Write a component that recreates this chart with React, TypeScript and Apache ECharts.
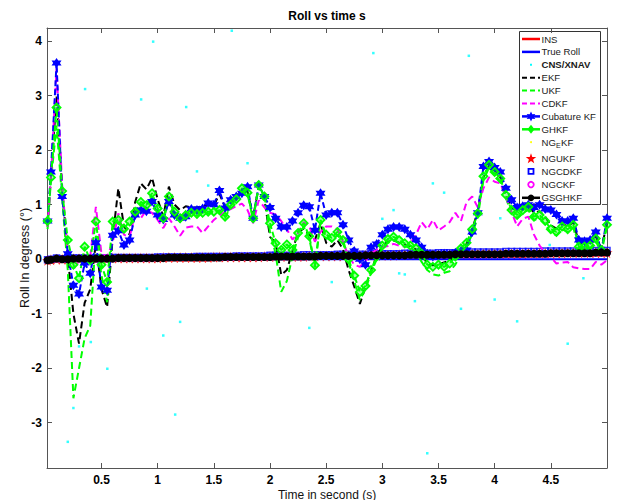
import React, { useEffect, useRef } from 'react';
import * as echarts from 'echarts';

// ---- data ----
const time = [
  0.02, 0.05, 0.1, 0.15, 0.2, 0.25, 0.3, 0.35, 0.4, 0.45,
  0.5, 0.55, 0.6, 0.65, 0.7, 0.75, 0.8, 0.85, 0.9, 0.95,
  1, 1.05, 1.1, 1.15, 1.2, 1.25, 1.3, 1.35, 1.4, 1.45,
  1.5, 1.55, 1.6, 1.65, 1.7, 1.75, 1.8, 1.85, 1.9, 1.95,
  2, 2.05, 2.1, 2.15, 2.2, 2.25, 2.3, 2.35, 2.4, 2.45,
  2.5, 2.55, 2.6, 2.65, 2.7, 2.75, 2.8, 2.85, 2.9, 2.95,
  3, 3.05, 3.1, 3.15, 3.2, 3.25, 3.3, 3.35, 3.4, 3.45,
  3.5, 3.55, 3.6, 3.65, 3.7, 3.75, 3.8, 3.85, 3.9, 3.95,
  4, 4.05, 4.1, 4.15, 4.2, 4.25, 4.3, 4.35, 4.4, 4.45,
  4.5, 4.55, 4.6, 4.65, 4.7, 4.75, 4.8, 4.85, 4.9, 4.95,
  5,
];

const ekf = [
  0.6, 1.5, 3.0, 1.3, 0.05, -1.0, -1.55, -0.8, -0.55, 0.3,
  -0.55, -0.88, 0.4, 1.3, 0.6, 0.45, 1.05, 1.39, 1.28, 1.49,
  1.1, 0.78, 1.33, 1.0, 0.9, 0.97, 0.95, 0.95, 0.97, 1.0,
  0.98, 1.2, 0.95, 1.06, 1.15, 1.27, 1.24, 0.78, 1.33, 1.1,
  0.41, 0.3, -0.29, -0.2, 0.15, 0.5, 0.56, 0.45, 0.35, 0.66,
  0.3, 0.23, 0.35, 0.18, -0.2, -0.5, -0.82, -0.51, -0.2, 0.05,
  0.25, 0.32, 0.35, 0.3, 0.27, 0.24, 0.18, 0.08, -0.08, -0.11,
  -0.09, -0.06, -0.03, 0.05, 0.15, 0.28, 0.55, 0.88, 1.5, 1.72,
  1.62, 1.5, 1.22, 0.95, 0.88, 0.95, 1.0, 0.85, 0.88, 0.78,
  0.62, 0.56, 0.65, 0.6, 0.68, 0.3, 0.28, 0.3, 0.42, 0.2,
  0.66,
];

const ukf = [
  0.55, 1.45, 2.45, 1.1, -0.2, -2.55, -2.0, -1.45, -1.22, 0.43,
  -0.3, -0.79, 0.55, 0.7, 0.49, 0.6, 0.82, 1.0, 0.95, 1.15,
  0.88, 0.7, 1.1, 0.82, 0.72, 0.78, 0.82, 0.8, 0.82, 0.84,
  0.85, 0.87, 0.75, 0.98, 1.08, 1.28, 1.2, 0.72, 1.33, 1.1,
  0.5, 0.1, -0.6, -0.4, 0.05, 0.4, 0.6, 0.38, -0.15, 0.68,
  0.4, 0.33, 0.45, 0.3, -0.05, -0.4, -0.75, -0.55, -0.25, 0.0,
  0.2, 0.3, 0.35, 0.3, 0.24, 0.2, 0.14, -0.05, -0.2, -0.28,
  -0.3, -0.25, -0.22, -0.1, 0.1, 0.25, 0.45, 0.78, 1.45, 1.68,
  1.55, 1.42, 1.12, 0.85, 0.76, 0.85, 0.9, 0.72, 0.75, 0.64,
  0.48, 0.44, 0.55, 0.5, 0.58, 0.18, 0.17, 0.2, 0.33, 0.12,
  0.6,
];

const cdkf = [
  0.6, 1.5, 3.5, 1.35, 0.15, -0.05, -0.1, -0.02, 0.05, 0.96,
  0.1, 0.05, 0.3, 0.84, 0.45, 0.4, 0.84, 0.75, 0.9, 0.85,
  0.72, 0.57, 0.75, 0.6, 0.43, 0.58, 0.6, 0.6, 0.48, 0.6,
  0.72, 0.8, 0.87, 0.92, 0.97, 1.02, 0.9, 0.66, 1.08, 0.95,
  0.85, 0.82, 0.7, 0.55, 0.36, 0.48, 0.68, 0.6, 0.32, 0.5,
  0.6, 0.6, 0.55, 0.32, 0.05, -0.1, -0.14, -0.03, 0.1, 0.18,
  0.22, 0.24, 0.28, 0.25, 0.23, 0.3, 0.45, 0.68, 0.55, 0.72,
  0.53, 0.6, 0.68, 0.85, 0.7, 1.05, 1.15, 0.95, 1.3, 1.5,
  1.42, 1.39, 1.15, 0.87, 0.6, 0.74, 0.78, 0.45, 0.25, 0.12,
  0.04, -0.08, -0.06, -0.05, -0.15, -0.17, -0.18, -0.18, -0.05, -0.1,
  -0.02,
];

const cubatureKf = [
  0.7, 1.6, 3.6, 1.15, 0.1, -0.48, -0.64, -0.07, -0.26, 0.3,
  -0.51, -0.57, 0.44, 0.52, 0.26, 0.35, 0.81, 0.9, 0.88, 1.06,
  0.81, 0.73, 1.06, 0.81, 0.75, 0.78, 0.92, 0.9, 0.93, 1.03,
  1.0, 1.26, 0.94, 1.09, 1.15, 1.21, 1.33, 0.75, 1.36, 1.15,
  0.95, 0.75, 0.59, 0.59, 0.7, 0.85, 0.99, 0.96, 0.53, 1.21,
  0.81, 0.85, 0.85, 0.63, 0.35, 0.15, 0.0, -0.1, 0.22, 0.28,
  0.45, 0.55, 0.59, 0.59, 0.55, 0.45, 0.35, 0.22, 0.1, 0.05,
  0.08, 0.1, 0.08, 0.12, 0.15, 0.17, 0.5, 0.85, 1.7, 1.79,
  1.68, 1.6, 1.3, 1.09, 0.95, 0.97, 1.0, 0.95, 1.0, 0.92,
  0.9, 0.82, 0.7, 0.7, 0.75, 0.35, 0.33, 0.35, 0.5, 0.15,
  0.75,
];

const ghkf = [
  0.7, 1.5, 2.78, 1.25, 0.35, -0.1, -0.35, 0.23, -0.02, 0.69,
  -0.1, -0.42, 0.69, 0.72, 0.56, 0.69, 0.87, 1.05, 0.99, 1.21,
  0.93, 0.75, 1.15, 0.87, 0.75, 0.81, 0.85, 0.83, 0.85, 0.87,
  0.87, 0.9, 0.78, 1.0, 1.1, 1.3, 1.22, 0.75, 1.36, 1.15,
  0.66, 0.29, 0.17, 0.27, 0.17, 0.48, 0.66, 0.42, -0.11, 0.72,
  0.45, 0.39, 0.5, 0.35, 0.0, -0.3, -0.6, -0.49, -0.2, 0.05,
  0.25, 0.37, 0.41, 0.35, 0.29, 0.25, 0.2, 0.1, -0.1, -0.14,
  -0.1, -0.14, -0.08, 0.05, 0.2, 0.3, 0.55, 0.84, 1.52, 1.73,
  1.6, 1.48, 1.18, 0.9, 0.81, 0.9, 0.96, 0.78, 0.81, 0.7,
  0.55, 0.5, 0.6, 0.55, 0.63, 0.23, 0.23, 0.25, 0.38, 0.17,
  0.63,
];

const ngeKf = [
  -0.02, -0.01, 0.0, 0.0, 0.0, 0.01, 0.01, 0.01, 0.01, 0.01,
  0.01, 0.01, 0.01, 0.02, 0.02, 0.02, 0.02, 0.02, 0.02, 0.02,
  0.02, 0.02, 0.03, 0.03, 0.03, 0.03, 0.03, 0.03, 0.03, 0.03,
  0.03, 0.04, 0.04, 0.04, 0.04, 0.04, 0.04, 0.04, 0.04, 0.05,
  0.05, 0.05, 0.05, 0.05, 0.05, 0.05, 0.05, 0.05, 0.06, 0.06,
  0.06, 0.06, 0.06, 0.06, 0.06, 0.07, 0.07, 0.07, 0.07, 0.07,
  0.07, 0.07, 0.07, 0.08, 0.08, 0.08, 0.08, 0.08, 0.08, 0.08,
  0.08, 0.09, 0.09, 0.09, 0.09, 0.09, 0.09, 0.09, 0.09, 0.1,
  0.1, 0.1, 0.1, 0.1, 0.1, 0.1, 0.11, 0.11, 0.11, 0.11,
  0.11, 0.11, 0.11, 0.11, 0.12, 0.12, 0.12, 0.12, 0.12, 0.12,
  0.12,
];

const ngUkf = [
  -0.02, -0.01, 0.0, 0.0, 0.0, 0.01, 0.01, 0.01, 0.01, 0.01,
  0.01, 0.01, 0.02, 0.02, 0.02, 0.02, 0.02, 0.02, 0.02, 0.02,
  0.02, 0.03, 0.03, 0.03, 0.03, 0.03, 0.03, 0.03, 0.03, 0.03,
  0.04, 0.04, 0.04, 0.04, 0.04, 0.04, 0.04, 0.04, 0.04, 0.05,
  0.05, 0.05, 0.05, 0.05, 0.05, 0.05, 0.05, 0.06, 0.06, 0.06,
  0.06, 0.06, 0.06, 0.06, 0.06, 0.07, 0.07, 0.07, 0.07, 0.07,
  0.07, 0.07, 0.07, 0.08, 0.08, 0.08, 0.08, 0.08, 0.08, 0.08,
  0.08, 0.09, 0.09, 0.09, 0.09, 0.09, 0.09, 0.09, 0.1, 0.1,
  0.1, 0.1, 0.1, 0.1, 0.1, 0.1, 0.11, 0.11, 0.11, 0.11,
  0.11, 0.11, 0.11, 0.12, 0.12, 0.12, 0.12, 0.12, 0.12, 0.12,
  0.12,
];

const ngCdkf = [
  -0.01, 0.0, 0.02, 0.01, 0.01, 0.02, 0.02, 0.02, 0.02, 0.02,
  0.02, 0.02, 0.03, 0.03, 0.03, 0.03, 0.03, 0.03, 0.03, 0.03,
  0.04, 0.04, 0.04, 0.04, 0.04, 0.04, 0.04, 0.05, 0.05, 0.05,
  0.05, 0.05, 0.05, 0.05, 0.06, 0.06, 0.06, 0.06, 0.06, 0.06,
  0.07, 0.07, 0.07, 0.07, 0.07, 0.07, 0.08, 0.08, 0.08, 0.08,
  0.08, 0.08, 0.09, 0.09, 0.09, 0.09, 0.09, 0.09, 0.1, 0.1,
  0.1, 0.1, 0.1, 0.1, 0.11, 0.11, 0.11, 0.11, 0.11, 0.11,
  0.12, 0.12, 0.12, 0.12, 0.12, 0.12, 0.13, 0.13, 0.13, 0.13,
  0.13, 0.13, 0.14, 0.14, 0.14, 0.14, 0.14, 0.14, 0.14, 0.15,
  0.15, 0.15, 0.15, 0.15, 0.15, 0.15, 0.15, 0.16, 0.16, 0.16,
  0.16,
];

const ngCkf = [
  -0.02, -0.01, 0.01, 0.0, 0.0, 0.01, 0.01, 0.01, 0.01, 0.01,
  0.01, 0.01, 0.01, 0.02, 0.02, 0.02, 0.02, 0.02, 0.02, 0.02,
  0.02, 0.02, 0.03, 0.03, 0.03, 0.03, 0.03, 0.03, 0.03, 0.03,
  0.03, 0.03, 0.04, 0.04, 0.04, 0.04, 0.04, 0.04, 0.04, 0.04,
  0.04, 0.05, 0.05, 0.05, 0.05, 0.05, 0.05, 0.05, 0.05, 0.06,
  0.06, 0.06, 0.06, 0.06, 0.06, 0.06, 0.06, 0.07, 0.07, 0.07,
  0.07, 0.07, 0.07, 0.07, 0.07, 0.08, 0.08, 0.08, 0.08, 0.08,
  0.08, 0.08, 0.08, 0.09, 0.09, 0.09, 0.09, 0.09, 0.09, 0.09,
  0.09, 0.09, 0.1, 0.1, 0.1, 0.1, 0.1, 0.1, 0.1, 0.1,
  0.11, 0.11, 0.11, 0.11, 0.11, 0.11, 0.11, 0.11, 0.12, 0.12,
  0.12,
];

const gsghkf = [
  -0.02, -0.01, 0.01, 0.0, 0.0, 0.01, 0.01, 0.01, 0.01, 0.01,
  0.01, 0.01, 0.01, 0.02, 0.02, 0.02, 0.02, 0.02, 0.02, 0.02,
  0.02, 0.02, 0.03, 0.03, 0.03, 0.03, 0.03, 0.03, 0.03, 0.03,
  0.03, 0.03, 0.04, 0.04, 0.04, 0.04, 0.04, 0.04, 0.04, 0.04,
  0.04, 0.05, 0.05, 0.05, 0.05, 0.05, 0.05, 0.05, 0.05, 0.06,
  0.06, 0.06, 0.06, 0.06, 0.06, 0.06, 0.06, 0.07, 0.07, 0.07,
  0.07, 0.07, 0.07, 0.07, 0.07, 0.08, 0.08, 0.08, 0.08, 0.08,
  0.08, 0.08, 0.08, 0.09, 0.09, 0.09, 0.09, 0.09, 0.09, 0.09,
  0.09, 0.09, 0.1, 0.1, 0.1, 0.1, 0.1, 0.1, 0.1, 0.1,
  0.11, 0.11, 0.11, 0.11, 0.11, 0.11, 0.11, 0.11, 0.12, 0.12,
  0.12,
];

const insTime = [0.02, 1, 2, 3, 4, 5];
const insRoll = [0, 0.02, 0.04, 0.06, 0.09, 0.11];

const trueTime = [0.02, 5];
const trueRoll = [0, 0];

const cnsTime = [
  0.2, 0.25, 0.3, 0.354, 0.405, 0.552, 0.853, 0.904, 0.96, 1.05,
  1.156, 1.2, 1.254, 1.35, 1.45, 1.66, 1.8, 2.35, 2.55, 2.92,
  3.0, 3.1, 3.15, 3.2, 3.29, 3.4, 3.45, 3.55, 3.7, 3.77,
  4.0, 4.05, 4.2, 4.49, 4.65, 4.79,
];
const cnsRoll = [
  -3.35, -2.73, -1.6, 3.12, -1.52, -2.01, 2.93, -0.54, 3.99, -1.4,
  -2.85, -1.15, 2.79, 1.61, 1.35, 4.19, 1.76, -1.26, -0.42, 3.78,
  0.74, 0.9, -0.26, -0.28, -0.77, -3.56, 1.39, 1.22, -0.91, 3.73,
  -0.74, 0.75, -1.14, 0.26, -1.55, -0.35,
];

const xTicks = [0.5, 1, 1.5, 2, 2.5, 3, 3.5, 4, 4.5];
const yTicks = [-3, -2, -1, 0, 1, 2, 3, 4];

const legendNames = [
  'INS', 'True Roll', 'CNS/XNAV', 'EKF', 'UKF', 'CDKF', 'Cubature KF',
  'GHKF', 'NGEKF', 'NGUKF', 'NGCDKF', 'NGCKF', 'GSGHKF',
];

// ---- styles / helpers ----
const FONT = 'Liberation Sans, Arial, sans-serif';
const RED = '#ff0000';
const BLUE = '#0000ff';
const CYAN = '#00ffff';
const GREEN = '#00ff00';
const MAGENTA = '#ff00ff';
const YELLOW = '#ffff00';
const AXIS = '#555555';

const STAR6 =
  'path://M0,-10L2.887,-5L8.66,-5L5.774,0L8.66,5L2.887,5L0,10L-2.887,5L-8.66,5L-5.774,0L-8.66,-5L-2.887,-5Z';
const STAR5 =
  'path://M0,-10L2.245,-3.09L9.511,-3.09L3.633,1.18L5.878,8.09L0,3.82L-5.878,8.09L-3.633,1.18L-9.511,-3.09L-2.245,-3.09Z';

const zip = (xs: number[], ys: number[]) => xs.map((x, i) => [x, ys[i]]);

function starPoints(cx: number, cy: number, n: number, ro: number, ri: number) {
  const pts: number[][] = [];
  for (let i = 0; i < 2 * n; i++) {
    const a = -Math.PI / 2 + (i * Math.PI) / n;
    const r = i % 2 === 0 ? ro : ri;
    pts.push([cx + r * Math.cos(a), cy + r * Math.sin(a)]);
  }
  return pts;
}

function measure(text: string, font: string) {
  const c = document.createElement('canvas').getContext('2d');
  if (!c) return text.length * 6;
  c.font = font;
  return c.measureText(text).width;
}

function buildLegend() {
  const els: any[] = [];
  const boxX = 519, boxY = 31, boxW = 81, boxH = 173;
  els.push({
    type: 'rect',
    shape: { x: boxX + 0.5, y: boxY + 0.5, width: boxW, height: boxH },
    style: { fill: '#ffffff', stroke: '#333333', lineWidth: 1 },
  });
  const rows = [39, 51.9, 64.8, 77.7, 90.6, 103.5, 116.4, 129.3, 142.2, 158.2, 171.4, 184.6, 197.8];
  const lx0 = 522, lx1 = 540, tx = 541.5, mx = 531;
  const fs = 9.6;
  const line = (y: number, stroke: string, lw: number, dash?: number[]) => ({
    type: 'line',
    shape: { x1: lx0, y1: y, x2: lx1, y2: y },
    style: { stroke, lineWidth: lw, lineDash: dash || null },
  });
  const label = (y: number, text: string, bold = false) => ({
    type: 'text',
    x: tx,
    y,
    style: {
      text, fontSize: fs, fontFamily: FONT, fontWeight: bold ? 'bold' : 'normal',
      fill: '#1a1a1a', textAlign: 'left', textVerticalAlign: 'middle', align: 'left', verticalAlign: 'middle',
    },
  });
  legendNames.forEach((name, i) => {
    const y = rows[i];
    switch (name) {
      case 'INS':
        els.push(line(y, RED, 2.5)); els.push(label(y, name)); break;
      case 'True Roll':
        els.push(line(y, BLUE, 2.5)); els.push(label(y, name)); break;
      case 'CNS/XNAV':
        els.push({ type: 'rect', shape: { x: mx - 1, y: y - 1, width: 2, height: 2 }, style: { fill: CYAN } });
        els.push(label(y, name, true)); break;
      case 'EKF':
        els.push(line(y, '#000000', 2, [5, 3])); els.push(label(y, name)); break;
      case 'UKF':
        els.push(line(y, GREEN, 2, [5, 3])); els.push(label(y, name)); break;
      case 'CDKF':
        els.push(line(y, MAGENTA, 2, [5, 3])); els.push(label(y, name)); break;
      case 'Cubature KF':
        els.push(line(y, BLUE, 2.5));
        els.push({ type: 'polygon', shape: { points: starPoints(mx, y, 6, 5, 2.6) }, style: { fill: BLUE } });
        els.push(label(y, name)); break;
      case 'GHKF':
        els.push(line(y, GREEN, 2.5));
        els.push({ type: 'polygon', shape: { points: [[mx, y - 4.5], [mx + 3.5, y], [mx, y + 4.5], [mx - 3.5, y]] }, style: { fill: GREEN } });
        els.push(label(y, name)); break;
      case 'NGEKF': {
        els.push({ type: 'circle', shape: { cx: mx, cy: y, r: 1 }, style: { fill: YELLOW } });
        const f1 = `normal ${fs}px ${FONT}`;
        const w1 = measure('NG', f1);
        const w2 = measure('E', `normal 7px ${FONT}`);
        els.push(label(y, 'NG'));
        els.push({ type: 'text', x: tx + w1, y: y + 3.5, style: { text: 'E', fontSize: 7, fontFamily: FONT, fill: '#1a1a1a', textVerticalAlign: 'middle', verticalAlign: 'middle' } });
        els.push({ ...label(y, 'KF'), x: tx + w1 + w2 + 0.5 });
        break;
      }
      case 'NGUKF':
        els.push({ type: 'polygon', shape: { points: starPoints(mx, y + 0.5, 5, 5.5, 2.2) }, style: { fill: RED } });
        els.push(label(y, name)); break;
      case 'NGCDKF':
        els.push({ type: 'rect', shape: { x: mx - 2.5, y: y - 2.5, width: 5, height: 5 }, style: { fill: '#ffffff', stroke: BLUE, lineWidth: 1.8 } });
        els.push(label(y, name)); break;
      case 'NGCKF':
        els.push({ type: 'circle', shape: { cx: mx, cy: y, r: 2.8 }, style: { fill: '#ffffff', stroke: MAGENTA, lineWidth: 1.8 } });
        els.push(label(y, name)); break;
      case 'GSGHKF':
        els.push(line(y, '#000000', 2.5));
        els.push({ type: 'circle', shape: { cx: mx, cy: y, r: 3.3 }, style: { fill: '#000000' } });
        els.push(label(y, name)); break;
    }
  });
  return { type: 'group', z: 100, children: els };
}

export default function App() {
  const ref = useRef<HTMLDivElement>(null);
  useEffect(() => {
    if (!ref.current) return;
    const chart = echarts.init(ref.current, null, { renderer: 'svg' });
    const axisCommon = {
      type: 'value',
      axisLine: { show: true, onZero: false, lineStyle: { color: AXIS, width: 1 } },
      splitLine: { show: false },
    };
    const tickLabel = { fontSize: 12, fontWeight: 'bold', color: '#000', fontFamily: FONT };
    const option: any = {
      animation: false,
      backgroundColor: '#ffffff',
      grid: { left: 47, right: 12, top: 28, bottom: 32, containLabel: false },
      xAxis: [
        {
          ...axisCommon, position: 'bottom', min: 0.015, max: 5,
          axisTick: { show: true, inside: true, length: 5, customValues: xTicks, lineStyle: { color: AXIS } },
          axisLabel: { ...tickLabel, margin: 6, customValues: xTicks, formatter: (v: number) => String(v) },
        },
        {
          ...axisCommon, position: 'top', min: 0.015, max: 5,
          axisTick: { show: true, inside: true, length: 5, customValues: xTicks, lineStyle: { color: AXIS } },
          axisLabel: { show: false },
        },
      ],
      yAxis: [
        {
          ...axisCommon, position: 'left', min: -3.83, max: 4.24,
          axisTick: { show: true, inside: true, length: 5, customValues: yTicks, lineStyle: { color: AXIS } },
          axisLabel: { ...tickLabel, margin: 5, customValues: yTicks, formatter: (v: number) => String(v) },
        },
        {
          ...axisCommon, position: 'right', min: -3.83, max: 4.24,
          axisTick: { show: true, inside: true, length: 5, customValues: yTicks, lineStyle: { color: AXIS } },
          axisLabel: { show: false },
        },
      ],
      series: [
        { name: 'INS', type: 'line', data: zip(insTime, insRoll), showSymbol: false, lineStyle: { color: RED, width: 2 }, silent: true },
        { name: 'True Roll', type: 'line', data: zip(trueTime, trueRoll), showSymbol: false, lineStyle: { color: BLUE, width: 2 }, silent: true },
        { name: 'CNS/XNAV', type: 'scatter', data: zip(cnsTime, cnsRoll), symbol: 'rect', symbolSize: 2.5, itemStyle: { color: CYAN }, silent: true },
        { name: 'EKF', type: 'line', data: zip(time, ekf), showSymbol: false, lineStyle: { color: '#000', width: 2, type: [7, 4] }, silent: true },
        { name: 'UKF', type: 'line', data: zip(time, ukf), showSymbol: false, lineStyle: { color: GREEN, width: 2, type: [7, 4] }, silent: true },
        { name: 'CDKF', type: 'line', data: zip(time, cdkf), showSymbol: false, lineStyle: { color: MAGENTA, width: 2, type: [7, 4] }, silent: true },
        {
          name: 'Cubature KF', type: 'line', data: zip(time, cubatureKf), symbol: STAR6, symbolSize: 10, showAllSymbol: true,
          itemStyle: { color: BLUE }, lineStyle: { color: BLUE, width: 2, type: [6, 3] }, silent: true,
        },
        {
          name: 'GHKF', type: 'line', data: zip(time, ghkf), symbol: 'diamond', symbolSize: 8, showAllSymbol: true,
          itemStyle: { color: 'rgba(0,255,0,0.35)', borderColor: GREEN, borderWidth: 1.8 }, lineStyle: { color: GREEN, width: 2, type: [6, 3] }, silent: true,
        },
        { name: 'NGEKF', type: 'scatter', data: zip(time, ngeKf), symbol: 'circle', symbolSize: 2, itemStyle: { color: YELLOW }, silent: true },
        { name: 'NGUKF', type: 'scatter', data: zip(time, ngUkf), symbol: STAR5, symbolSize: 11, itemStyle: { color: RED }, silent: true },
        {
          name: 'NGCDKF', type: 'scatter', data: zip(time, ngCdkf), symbol: 'rect', symbolSize: 6,
          itemStyle: { color: 'rgba(0,0,0,0)', borderColor: BLUE, borderWidth: 1.5 }, silent: true,
        },
        {
          name: 'NGCKF', type: 'scatter', data: zip(time, ngCkf), symbol: 'circle', symbolSize: 6,
          itemStyle: { color: 'rgba(0,0,0,0)', borderColor: MAGENTA, borderWidth: 1.5 }, silent: true,
        },
        {
          name: 'GSGHKF', type: 'line', data: zip(time, gsghkf), symbol: 'circle', symbolSize: 8, showAllSymbol: true,
          itemStyle: { color: '#000' }, lineStyle: { color: '#000', width: 5 }, silent: true,
        },
      ],
      graphic: [
        {
          type: 'text', x: 327, y: 16, z: 100,
          style: { text: 'Roll vs time s', fontSize: 12, fontWeight: 'bold', fontFamily: FONT, fill: '#000', textAlign: 'center', textVerticalAlign: 'middle', align: 'center', verticalAlign: 'middle' },
        },
        {
          type: 'text', x: 327, y: 494.5, z: 100,
          style: { text: 'Time in second (s)', fontSize: 12, fontFamily: FONT, fill: '#111', textAlign: 'center', textVerticalAlign: 'middle', align: 'center', verticalAlign: 'middle' },
        },
        {
          type: 'text', x: 25, y: 258, rotation: Math.PI / 2, z: 100,
          style: { text: 'Roll In degress (°)', fontSize: 12.5, fontFamily: FONT, fill: '#111', textAlign: 'center', textVerticalAlign: 'middle', align: 'center', verticalAlign: 'middle' },
        },
        buildLegend(),
      ],
    };
    chart.setOption(option);
    return () => chart.dispose();
  }, []);
  return <div ref={ref} style={{ position: 'fixed', left: 0, top: 0, width: 619, height: 500 }} />;
}
